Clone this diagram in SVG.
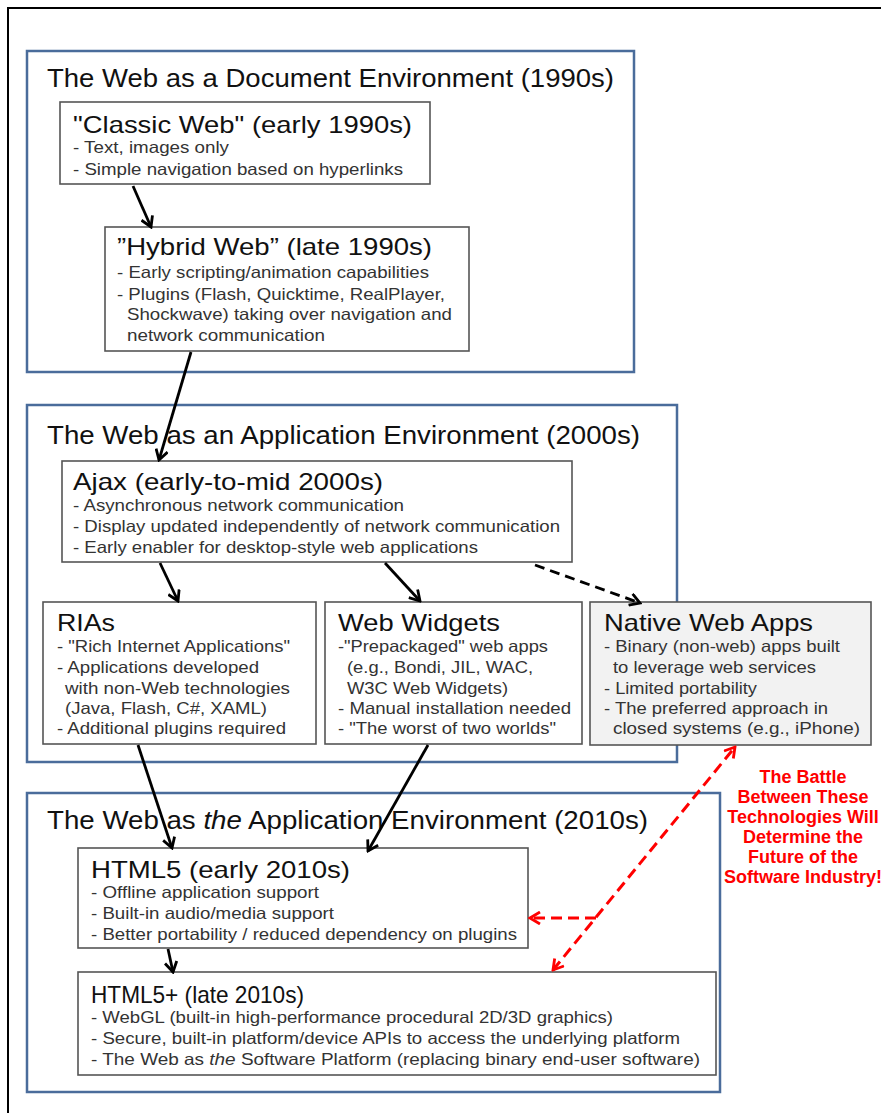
<svg xmlns="http://www.w3.org/2000/svg" width="881" height="1113" viewBox="0 0 881 1113">
<style>
.sec{fill:#fff;stroke:#4a6c9b;stroke-width:2.5}
.box{fill:#fff;stroke:#555;stroke-width:1.6}
.grey{fill:#f2f2f2}
.st{font-family:"Liberation Sans",Arial,sans-serif;font-size:25px;fill:#111}
.bt{font-family:"Liberation Sans",Arial,sans-serif;font-size:24px;fill:#111}
.ln{font-family:"Liberation Sans",Arial,sans-serif;font-size:16.5px;fill:#333}
.red{font-family:"Liberation Sans",Arial,sans-serif;font-size:18px;font-weight:bold;fill:#f00;text-anchor:middle}
.ar{fill:none;stroke:#000;stroke-width:2.8}
.rd{fill:none;stroke:#f00;stroke-width:3;stroke-dasharray:11,6}
</style>
<defs>
<marker id="ah" markerUnits="userSpaceOnUse" viewBox="0 0 14 14" markerWidth="14" markerHeight="14" refX="12" refY="7" orient="auto-start-reverse">
<path d="M2,1 L12,7 L2,13" fill="none" stroke="#000" stroke-width="2.8"/>
</marker>
<marker id="rh" markerUnits="userSpaceOnUse" viewBox="0 0 14 14" markerWidth="14" markerHeight="14" refX="12" refY="7" orient="auto-start-reverse">
<path d="M2,1 L12,7 L2,13" fill="none" stroke="#f00" stroke-width="2.8"/>
</marker>
</defs>
<rect width="881" height="1113" fill="#fff"/>
<path d="M8,1113 V8 H881" fill="none" stroke="#000" stroke-width="2"/>

<g id="sec1">
<rect class="sec" x="27" y="51" width="607" height="321"/>
<text class="st" x="47" y="87" textLength="567" lengthAdjust="spacingAndGlyphs">The Web as a Document Environment (1990s)</text>
</g>
<g id="sec2">
<rect class="sec" x="27" y="405" width="650" height="357"/>
<text class="st" x="47" y="444" textLength="593" lengthAdjust="spacingAndGlyphs">The Web as an Application Environment (2000s)</text>
</g>
<g id="sec3">
<rect class="sec" x="27" y="793" width="693" height="299"/>
<text class="st" x="47" y="829" textLength="601" lengthAdjust="spacingAndGlyphs">The Web as <tspan font-style="italic">the</tspan> Application Environment (2010s)</text>
</g>

<g id="classic">
<rect class="box" x="60" y="102" width="370" height="82"/>
<text class="bt" x="73" y="133" textLength="339" lengthAdjust="spacingAndGlyphs">"Classic Web" (early 1990s)</text>
<text class="ln" x="73" y="153" textLength="156" lengthAdjust="spacingAndGlyphs">- Text,  images only</text>
<text class="ln" x="73" y="175" textLength="330" lengthAdjust="spacingAndGlyphs">- Simple navigation based on hyperlinks</text>
</g>

<g id="hybrid">
<rect class="box" x="105" y="227" width="364" height="124"/>
<text class="bt" x="117" y="255" textLength="315" lengthAdjust="spacingAndGlyphs">”Hybrid Web” (late 1990s)</text>
<text class="ln" x="117" y="278" textLength="312" lengthAdjust="spacingAndGlyphs">- Early scripting/animation capabilities</text>
<text class="ln" x="117" y="300" textLength="328" lengthAdjust="spacingAndGlyphs">- Plugins (Flash, Quicktime, RealPlayer,</text>
<text class="ln" x="127" y="320" textLength="325" lengthAdjust="spacingAndGlyphs">Shockwave) taking over navigation and</text>
<text class="ln" x="127" y="341" textLength="198" lengthAdjust="spacingAndGlyphs">network communication</text>
</g>

<g id="ajax">
<rect class="box" x="62" y="461" width="510" height="101"/>
<text class="bt" x="73" y="490" textLength="310" lengthAdjust="spacingAndGlyphs">Ajax (early-to-mid 2000s)</text>
<text class="ln" x="73" y="511" textLength="331" lengthAdjust="spacingAndGlyphs">- Asynchronous network communication</text>
<text class="ln" x="73" y="532" textLength="487" lengthAdjust="spacingAndGlyphs">- Display updated independently of network communication</text>
<text class="ln" x="73" y="553" textLength="405" lengthAdjust="spacingAndGlyphs">- Early enabler for desktop-style web applications</text>
</g>

<g id="rias">
<rect class="box" x="43" y="602" width="273" height="142"/>
<text class="bt" x="57" y="631" textLength="58" lengthAdjust="spacingAndGlyphs">RIAs</text>
<text class="ln" x="57" y="652" textLength="233" lengthAdjust="spacingAndGlyphs">- "Rich Internet Applications"</text>
<text class="ln" x="57" y="673" textLength="202" lengthAdjust="spacingAndGlyphs">- Applications developed</text>
<text class="ln" x="65" y="694" textLength="225" lengthAdjust="spacingAndGlyphs">with non-Web technologies</text>
<text class="ln" x="65" y="714" textLength="202" lengthAdjust="spacingAndGlyphs">(Java, Flash, C#, XAML)</text>
<text class="ln" x="57" y="734" textLength="229" lengthAdjust="spacingAndGlyphs">- Additional plugins required</text>
</g>

<g id="widgets">
<rect class="box" x="325" y="602" width="257" height="142"/>
<text class="bt" x="338" y="631" textLength="162" lengthAdjust="spacingAndGlyphs">Web Widgets</text>
<text class="ln" x="338" y="652" textLength="210" lengthAdjust="spacingAndGlyphs">-"Prepackaged" web apps</text>
<text class="ln" x="347" y="673" textLength="186" lengthAdjust="spacingAndGlyphs">(e.g.,  Bondi, JIL, WAC,</text>
<text class="ln" x="347" y="694" textLength="161" lengthAdjust="spacingAndGlyphs">W3C Web Widgets)</text>
<text class="ln" x="338" y="714" textLength="233" lengthAdjust="spacingAndGlyphs">- Manual installation needed</text>
<text class="ln" x="338" y="734" textLength="218" lengthAdjust="spacingAndGlyphs">- "The worst of two worlds"</text>
</g>

<g id="native">
<rect class="box grey" x="590" y="602" width="281" height="143"/>
<text class="bt" x="604" y="631" textLength="209" lengthAdjust="spacingAndGlyphs">Native Web Apps</text>
<text class="ln" x="604" y="652" textLength="236" lengthAdjust="spacingAndGlyphs">- Binary (non-web) apps built</text>
<text class="ln" x="613" y="673" textLength="203" lengthAdjust="spacingAndGlyphs">to leverage web services</text>
<text class="ln" x="604" y="694" textLength="153" lengthAdjust="spacingAndGlyphs">- Limited portability</text>
<text class="ln" x="604" y="714" textLength="224" lengthAdjust="spacingAndGlyphs">- The preferred approach in</text>
<text class="ln" x="613" y="734" textLength="247" lengthAdjust="spacingAndGlyphs">closed systems (e.g., iPhone)</text>
</g>

<g id="html5">
<rect class="box" x="78" y="848" width="450" height="100"/>
<text class="bt" x="91" y="878" textLength="259" lengthAdjust="spacingAndGlyphs">HTML5 (early 2010s)</text>
<text class="ln" x="91" y="898" textLength="228" lengthAdjust="spacingAndGlyphs">- Offline application support</text>
<text class="ln" x="91" y="919" textLength="243" lengthAdjust="spacingAndGlyphs">- Built-in audio/media support</text>
<text class="ln" x="91" y="940" textLength="426" lengthAdjust="spacingAndGlyphs">- Better portability / reduced dependency on plugins</text>
</g>

<g id="html5plus">
<rect class="box" x="78" y="972" width="638" height="103"/>
<text class="bt" x="91" y="1003" font-size="25" textLength="213" lengthAdjust="spacingAndGlyphs">HTML5+ (late 2010s)</text>
<text class="ln" x="91" y="1023" textLength="522" lengthAdjust="spacingAndGlyphs">- WebGL (built-in high-performance procedural 2D/3D graphics)</text>
<text class="ln" x="91" y="1044" textLength="589" lengthAdjust="spacingAndGlyphs">- Secure, built-in platform/device APIs to access the underlying platform</text>
<text class="ln" x="91" y="1065" textLength="609" lengthAdjust="spacingAndGlyphs">- The Web as <tspan font-style="italic">the</tspan> Software Platform (replacing binary end-user software)</text>
</g>

<g id="note">
<text class="red" x="803" y="783">The Battle</text>
<text class="red" x="803" y="803">Between These</text>
<text class="red" x="803" y="823">Technologies Will</text>
<text class="red" x="803" y="843">Determine the</text>
<text class="red" x="803" y="863">Future of the</text>
<text class="red" x="803" y="883">Software Industry!</text>
</g>

<g id="connectors">
<line class="ar" x1="133" y1="186" x2="151" y2="227" marker-end="url(#ah)"/>
<line class="ar" x1="191" y1="352" x2="159" y2="460" marker-end="url(#ah)"/>
<line class="ar" x1="160" y1="563" x2="178" y2="601" marker-end="url(#ah)"/>
<line class="ar" x1="385" y1="563" x2="420" y2="601" marker-end="url(#ah)"/>
<line class="ar" x1="535" y1="565" x2="640" y2="603" stroke-dasharray="10,6" marker-end="url(#ah)"/>
<line class="ar" x1="138" y1="745" x2="172" y2="848" marker-end="url(#ah)"/>
<line class="ar" x1="428" y1="745" x2="368" y2="851" marker-end="url(#ah)"/>
<line class="ar" x1="168" y1="949" x2="173" y2="972" marker-end="url(#ah)"/>
<line class="rd" x1="553" y1="970" x2="735" y2="747" marker-start="url(#rh)" marker-end="url(#rh)"/>
<line class="rd" x1="596" y1="918" x2="530" y2="918" marker-end="url(#rh)"/>
</g>
</svg>
